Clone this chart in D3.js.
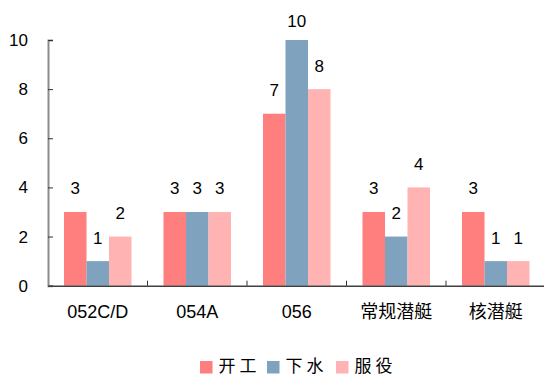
<!DOCTYPE html>
<html>
<head>
<meta charset="utf-8">
<script src="https://cdn.jsdelivr.net/npm/d3@7"></script>
<style>
  html, body { margin: 0; padding: 0; background: #fff; }
  svg { display: block; }
</style>
</head>
<body>
<svg id="chart" width="544" height="377"></svg>
<script>
// Ship and submarine counts by class
const categories = ["052C/D", "054A", "056", "常规潜艇", "核潜艇"];
const seriesNames = ["开工", "下水", "服役"];
const kaigong = [3, 3, 7, 3, 3];
const xiashui = [1, 3, 10, 2, 1];
const fuyi = [2, 3, 8, 4, 1];
const yTicks = [0, 2, 4, 6, 8, 10];
const colors = ["#FF7F7F", "#7FA3BF", "#FFB3B3"];

const series = [kaigong, xiashui, fuyi];
const svg = d3.select("#chart");
const latin = "'Liberation Sans', Arial, sans-serif";
const cjk = "'Liberation Sans', 'Noto Sans CJK SC', sans-serif";

const plot = { left: 48, right: 545.5, top: 40, bottom: 285.7 };

const x = d3.scaleBand().domain(categories).range([plot.left, plot.right]).paddingInner(0).paddingOuter(0);
const y = d3.scaleLinear().domain([0, 10]).range([plot.bottom, plot.top]);
const barW = 22.5;
const groupW = barW * series.length;
const sub = d3.scaleBand().domain(d3.range(series.length)).range([0, groupW]);

// y axis
const yAxis = svg.append("g").attr("transform", `translate(${plot.left},0)`)
  .call(d3.axisLeft(y).tickValues(yTicks).tickSize(-5).tickPadding(20));
yAxis.select(".domain").attr("stroke", "#8c8c8c").attr("stroke-width", 2);
yAxis.selectAll(".tick line").attr("stroke", "#333").attr("stroke-width", 1);
yAxis.selectAll(".tick text").attr("font-family", latin).attr("font-size", 17).attr("fill", "#000");

// bars with value labels
categories.forEach((c, ci) => {
  const x0 = x(c) + (x.bandwidth() - groupW) / 2;
  series.forEach((vals, si) => {
    const v = vals[ci];
    svg.append("rect")
      .attr("x", x0 + sub(si))
      .attr("y", y(v))
      .attr("width", barW)
      .attr("height", y(0) - y(v))
      .attr("fill", colors[si]);
    svg.append("text")
      .attr("x", x0 + sub(si) + barW / 2)
      .attr("y", Math.max(y(v) - 17.5, 27))
      .attr("text-anchor", "middle")
      .attr("font-family", latin)
      .attr("font-size", 17)
      .attr("fill", "#000")
      .text(v);
  });
});

// x axis
const xAxis = svg.append("g").attr("transform", `translate(0,${plot.bottom})`)
  .call(d3.axisBottom(x).tickSize(0).tickPadding(0));
xAxis.select(".domain").attr("stroke", "#404040").attr("stroke-width", 1.5);
xAxis.selectAll(".tick text")
  .attr("font-family", cjk).attr("font-size", 18).attr("fill", "#000")
  .attr("y", 32).attr("dy", 0);
// separators between categories
const seps = categories.slice(1).map(c => x(c));
xAxis.selectAll("line.sep").data(seps).enter().append("line")
  .attr("class", "sep")
  .attr("x1", d => d).attr("x2", d => d)
  .attr("y1", 0).attr("y2", -5)
  .attr("stroke", "#333").attr("stroke-width", 1);

// legend
const legendX = [200, 267, 336];
const legend = svg.append("g");
seriesNames.forEach((name, i) => {
  legend.append("rect")
    .attr("x", legendX[i]).attr("y", 361)
    .attr("width", 12.5).attr("height", 12.5)
    .attr("fill", colors[i]);
  legend.append("text")
    .attr("x", legendX[i] + 18.5).attr("y", 372)
    .attr("font-family", "'Noto Sans CJK SC', sans-serif")
    .attr("font-size", 17)
    .attr("letter-spacing", 4)
    .attr("fill", "#000")
    .text(name);
});
</script>
</body>
</html>
